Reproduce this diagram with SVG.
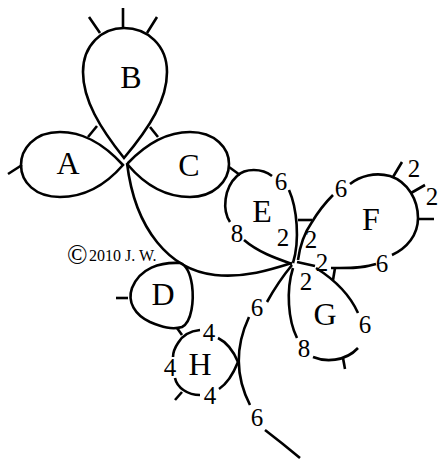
<svg xmlns="http://www.w3.org/2000/svg" width="438" height="459" viewBox="0 0 438 459">
<style>
.ln{fill:none;stroke:#000;stroke-width:2.6;stroke-linecap:butt;stroke-linejoin:round}
.ring{fill:#fff;stroke:#000;stroke-width:2.6}
.lt{font-family:"Liberation Serif","Times New Roman",serif;font-size:32px;text-anchor:middle;fill:#000}
.dg{font-family:"Liberation Serif","Times New Roman",serif;font-size:25px;text-anchor:middle;fill:#000}
.cp{font-family:"Liberation Serif","Times New Roman",serif;font-size:16px;fill:#000}
</style>
<rect width="438" height="459" fill="#fff"/>
<g id="connectors">
  <path class="ln" d="M127,163 C 135,230 170,270 215,275 C 245,278 270,270 292,263"/>
  <path class="ln" d="M292,265 Q 278,282 267,302"/>
  <path class="ln" d="M249,317 Q 228,362 250,405"/>
  <path class="ln" d="M265,430 Q 282,443 300,458"/>
  <path class="ln" d="M88,137 L97,126"/>
  <path class="ln" d="M150,127 L158,137"/>
  <path class="ln" d="M229,167 L240,175"/>
  <path class="ln" d="M177,328 L182,335"/>
  <path class="ln" d="M298,220 L312,220"/>
  <path class="ln" d="M335,268 L333,280"/>
  <text class="dg" x="257" y="316">6</text>
  <text class="dg" x="257" y="426">6</text>
</g>
<g id="node-B">
  <path class="ring" d="M124,158 C 100,128 83,100 83,72 C 83,45 102,28 124,28 C 147,28 167,45 167,72 C 167,100 150,127 124,158 Z"/>
  <path class="ln" d="M123,8 L123,28 M89,17 L100,33 M157,17 L147,33"/>
  <text class="lt" x="131" y="88">B</text>
</g>
<g id="node-A">
  <path class="ring" d="M123,165 C 100,140 80,132 60,132 C 33,132 21,150 21,165 C 21,182 35,197 60,197 C 82,197 103,188 123,165 Z"/>
  <path class="ln" d="M8,174 L22,165"/>
  <text class="lt" x="68" y="174">A</text>
</g>
<g id="node-C">
  <path class="ring" d="M128,163 C 150,140 170,132 190,132 C 215,132 229,148 229,164 C 229,182 213,197 190,197 C 165,197 145,185 128,165 Z"/>
  <text class="lt" x="189" y="176">C</text>
</g>
<g id="node-D">
  <path class="ring" d="M180,263 C 160,262 140,268 132,288 C 127,302 135,315 150,322 C 162,327 172,330 182,327 C 192,322 194,300 192,285 C 190,272 186,265 180,263 Z"/>
  <path class="ln" d="M116,298 L128,298"/>
  <text class="lt" x="163" y="305">D</text>
</g>
<g id="node-E">
  <path class="ln" d="M272,176 C 262,168 245,168 237,176 C 224,188 222,210 230,222"/>
  <path class="ln" d="M244,240 C 258,252 275,258 292,264"/>
  <path class="ln" d="M289,190 C 297,208 300,240 293,263"/>
  <text class="lt" x="262" y="222">E</text>
  <text class="dg" x="281" y="190">6</text>
  <text class="dg" x="237" y="242">8</text>
  <text class="dg" x="283" y="246">2</text>
</g>
<g id="node-F">
  <path class="ln" d="M298,260 C 300,245 305,232 312,222 C 318,212 325,203 333,195"/>
  <path class="ln" d="M350,184 C 360,176 375,172 390,176 C 408,182 418,200 418,218 C 418,235 407,248 392,255"/>
  <path class="ln" d="M376,264 C 360,269 345,268 331,268 M315,266 L297,262"/>
  <path class="ln" d="M393,177 L402,162 M411,193 L425,185 M418,219 L434,219"/>
  <text class="lt" x="371" y="230">F</text>
  <text class="dg" x="341" y="197">6</text>
  <text class="dg" x="311" y="248">2</text>
  <text class="dg" x="322" y="271">2</text>
  <text class="dg" x="382" y="272">6</text>
  <text class="dg" x="414" y="177">2</text>
  <text class="dg" x="432" y="205">2</text>
</g>
<g id="node-G">
  <path class="ln" d="M293,268 C 286,290 288,320 297,338"/>
  <path class="ln" d="M313,357 C 325,362 345,362 358,348"/>
  <path class="ln" d="M358,313 C 350,295 335,280 316,268"/>
  <path class="ln" d="M343,358 L345,369"/>
  <text class="lt" x="325" y="325">G</text>
  <text class="dg" x="306" y="290">2</text>
  <text class="dg" x="365" y="333">6</text>
  <text class="dg" x="304" y="357">8</text>
</g>
<g id="node-H">
  <path class="ln" d="M200,330 C 190,331 182,336 178,343 C 174,349 173,353 173,357"/>
  <path class="ln" d="M175,378 C 177,388 188,395 200,395"/>
  <path class="ln" d="M219,389 C 228,383 234,372 238,362"/>
  <path class="ln" d="M238,362 C 233,350 226,342 218,338"/>
  <path class="ln" d="M175,400 L182,392"/>
  <text class="lt" x="200" y="375">H</text>
  <text class="dg" x="209" y="341">4</text>
  <text class="dg" x="170" y="376">4</text>
  <text class="dg" x="210" y="404">4</text>
</g>
<g id="copyright">
  <text class="cp" x="67" y="264"><tspan font-size="27">©</tspan><tspan x="89" y="261">2010 J. W.</tspan></text>
</g>
</svg>
